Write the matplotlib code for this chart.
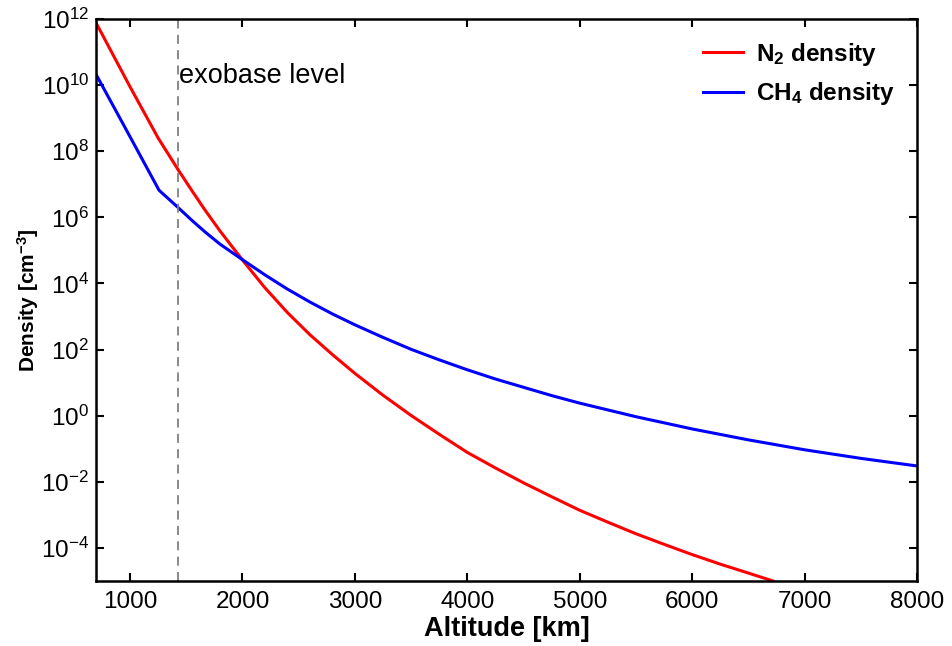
import numpy as np
import matplotlib
matplotlib.use("Agg")
import matplotlib.pyplot as plt
from matplotlib.ticker import FixedLocator, NullLocator, LogFormatterSciNotation

plt.rcParams['font.family'] = ['Liberation Sans', 'DejaVu Sans']
plt.rcParams['mathtext.fontset'] = 'custom'
plt.rcParams['mathtext.rm'] = 'Liberation Sans'
plt.rcParams['mathtext.it'] = 'Liberation Sans:italic'
plt.rcParams['mathtext.bf'] = 'Liberation Sans:bold'

# Data (altitude in km, density in cm^-3)
n2_alt = [700, 1000, 1250, 1430, 1550, 1667, 1800, 2000, 2200, 2400, 2600,
          2800, 3000, 3250, 3500, 3750, 4000, 4250, 4500, 4750, 5000, 5250,
          5500, 5750, 6000, 6250, 6500, 6720]
n2_density = [7.41e11, 8.91e9, 2.51e8, 2.69e7, 6.46e6, 1.66e6, 3.89e5, 5.13e4,
              7.41e3, 1.32e3, 2.82e2, 7.08e1, 1.91e1, 4.17e0, 1.02e0, 2.75e-1,
              7.76e-2, 2.63e-2, 9.33e-3, 3.55e-3, 1.38e-3, 6.03e-4, 2.69e-4,
              1.29e-4, 6.31e-5, 3.24e-5, 1.74e-5, 1.0e-5]

ch4_alt = [700, 1000, 1258, 1430, 1550, 1667, 1800, 2000, 2200, 2400, 2600,
           2800, 3000, 3250, 3500, 3750, 4000, 4250, 4500, 4750, 5000, 5500,
           6000, 6500, 7000, 7500, 8000]
ch4_density = [2.04e10, 2.75e8, 6.61e6, 1.95e6, 8.13e5, 3.63e5, 1.55e5, 5.25e4,
               1.82e4, 6.76e3, 2.75e3, 1.20e3, 5.62e2, 2.34e2, 1.02e2, 4.90e1,
               2.45e1, 1.29e1, 7.24e0, 4.07e0, 2.40e0, 9.33e-1, 3.98e-1,
               1.86e-1, 9.33e-2, 5.13e-2, 3.02e-2]

exobase_alt = 1430
x_ticks = [1000, 2000, 3000, 4000, 5000, 6000, 7000, 8000]
y_ticks = [1e-4, 1e-2, 1e0, 1e2, 1e4, 1e6, 1e8, 1e10, 1e12]

fig = plt.figure(figsize=(9.52, 6.46), dpi=100)
ax = fig.add_axes([0.1008, 0.1006, 0.8624, 0.87])

ax.plot(n2_alt, n2_density, color='#ff0000', lw=2.2, label=r'N$_\mathbf{2}$ density')
ax.plot(ch4_alt, ch4_density, color='#0000ff', lw=2.2, label=r'CH$_\mathbf{4}$ density')
ax.axvline(exobase_alt, color='#808080', lw=1.3, ls=(0, (5, 3.5)))
ax.text(exobase_alt + 10, 1.9e10, 'exobase level', fontsize=19.5, va='center', ha='left')

ax.set_yscale('log')
ax.set_xlim(697, 8000)
ax.set_ylim(1e-5, 1e12)
ax.xaxis.set_major_locator(FixedLocator(x_ticks))
ax.yaxis.set_major_locator(FixedLocator(y_ticks))
ax.yaxis.set_major_formatter(LogFormatterSciNotation())
ax.yaxis.set_minor_locator(NullLocator())
ax.xaxis.set_minor_locator(NullLocator())

ax.tick_params(axis='both', which='major', direction='in', length=6, width=1.5,
               top=True, right=True, labelsize=17.5, pad=5)
ax.tick_params(axis='x', pad=7)
for s in ax.spines.values():
    s.set_linewidth(1.8)

ax.set_xlabel('Altitude [km]', fontsize=19.5, fontweight='bold', labelpad=2)
ax.set_ylabel(r'Density [cm$^{\mathbf{-3}}$]', fontsize=15, fontweight='bold', labelpad=0)

leg = ax.legend(loc='upper right', frameon=False, prop={'weight': 'bold', 'size': 17.5},
                handlelength=1.65, handletextpad=0.55, labelspacing=0.5,
                borderaxespad=0.5)

fig.savefig('out.png', dpi=100)
